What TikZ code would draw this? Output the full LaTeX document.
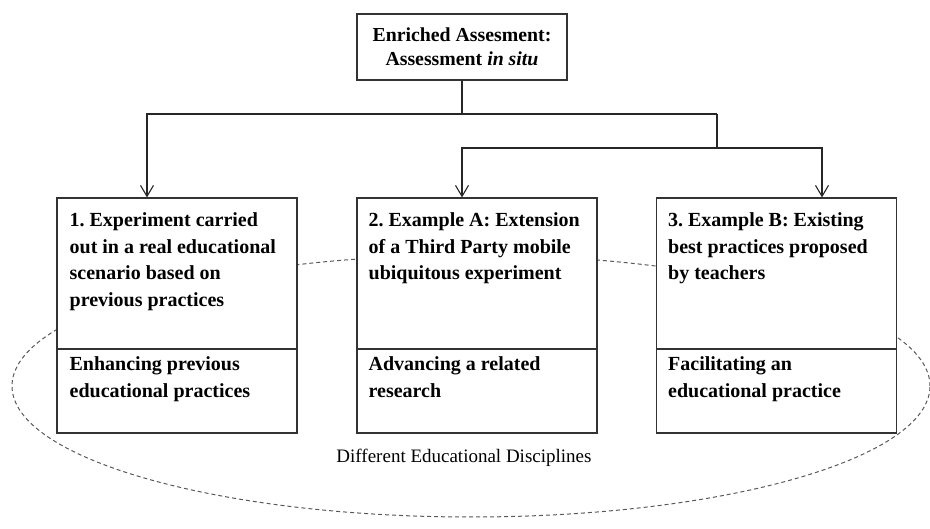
\documentclass[tikz,border=0pt]{standalone}
\usepackage{fontspec}
\setmainfont{Liberation Serif}
\usetikzlibrary{arrows.meta}

\tikzset{
  boxline/.style={draw=black!80, line width=1.1pt, fill=white},
  upbox/.style={boxline, minimum width=240pt, minimum height=151pt, inner sep=0pt},
  lowbox/.style={boxline, minimum width=240pt, minimum height=84pt, inner sep=0pt},
  headbox/.style={boxline, minimum width=210pt, minimum height=66pt, inner sep=0pt, align=center,
    font=\fontsize{19.8}{24}\selectfont\bfseries},
  txt/.style={anchor=north west, inner sep=0pt, align=left,
    font=\fontsize{20}{26.5}\selectfont\bfseries},
  arr/.style={draw=black!85, line width=1.1pt, -{Straight Barb[length=11pt,width=13pt]}},
  conn/.style={draw=black!85, line width=1.1pt},
  field/.style={draw=black!65, line width=1pt, dash pattern=on 4pt off 3pt}
}

\begin{document}
\frenchspacing
\begin{tikzpicture}[x=1pt,y=-1pt]
  \useasboundingbox (0,0) rectangle (930,529);

  % area of the disciplines, behind the boxes
  \draw[field] (471,386) ellipse [x radius=459pt, y radius=131pt];
  \node[font=\fontsize{19}{24}\selectfont, anchor=base] (disc) at (464,463) {Different Educational Disciplines};

  % head box
  \node[headbox] (head) at (462,47) {Enriched Assesment:\\Assessment \textit{in situ}};

  % first box
  \node[upbox] (up1) at (177,273.5) {};
  \node[lowbox] (low1) at (177,391) {};
  \node[txt] (t1) at ([xshift=13pt,yshift=-15pt] up1.north west)
    {1. Experiment carried\\out in a real educational\\scenario based on\\previous practices};
  \node[txt] (s1) at ([xshift=13pt,yshift=-8pt] low1.north west)
    {Enhancing previous\\educational practices};

  % second box
  \node[upbox] (up2) at (477,273.5) {};
  \node[lowbox] (low2) at (477,391) {};
  \node[txt] (t2) at ([xshift=12pt,yshift=-15pt] up2.north west)
    {2. Example A: Extension\\of a Third Party mobile\\ubiquitous experiment};
  \node[txt] (s2) at ([xshift=12pt,yshift=-8pt] low2.north west)
    {Advancing a related\\research};

  % third box
  \node[upbox] (up3) at (776.5,273.5) {};
  \node[lowbox] (low3) at (776.5,391) {};
  \node[txt] (t3) at ([xshift=12pt,yshift=-15pt] up3.north west)
    {3. Example B: Existing\\best practices proposed\\by teachers};
  \node[txt] (s3) at ([xshift=12pt,yshift=-8pt] low3.north west)
    {Facilitating an\\educational practice};

  % connectors
  \coordinate (j1) at (147,114);
  \coordinate (j2) at (717,114);
  \coordinate (j3) at (462,148);
  \coordinate (j4) at (822,148);
  \draw[conn] (head.south) -- (head.south |- j1);
  \draw[arr] (j2) -- (j1) -- (j1 |- up1.north);
  \draw[conn] (j2) -- (j2 |- j3);
  \draw[arr] (j2 |- j3) -- (j3) -- (j3 |- up2.north);
  \draw[arr] (j2 |- j3) -- (j4) -- (j4 |- up3.north);
\end{tikzpicture}
\end{document}
